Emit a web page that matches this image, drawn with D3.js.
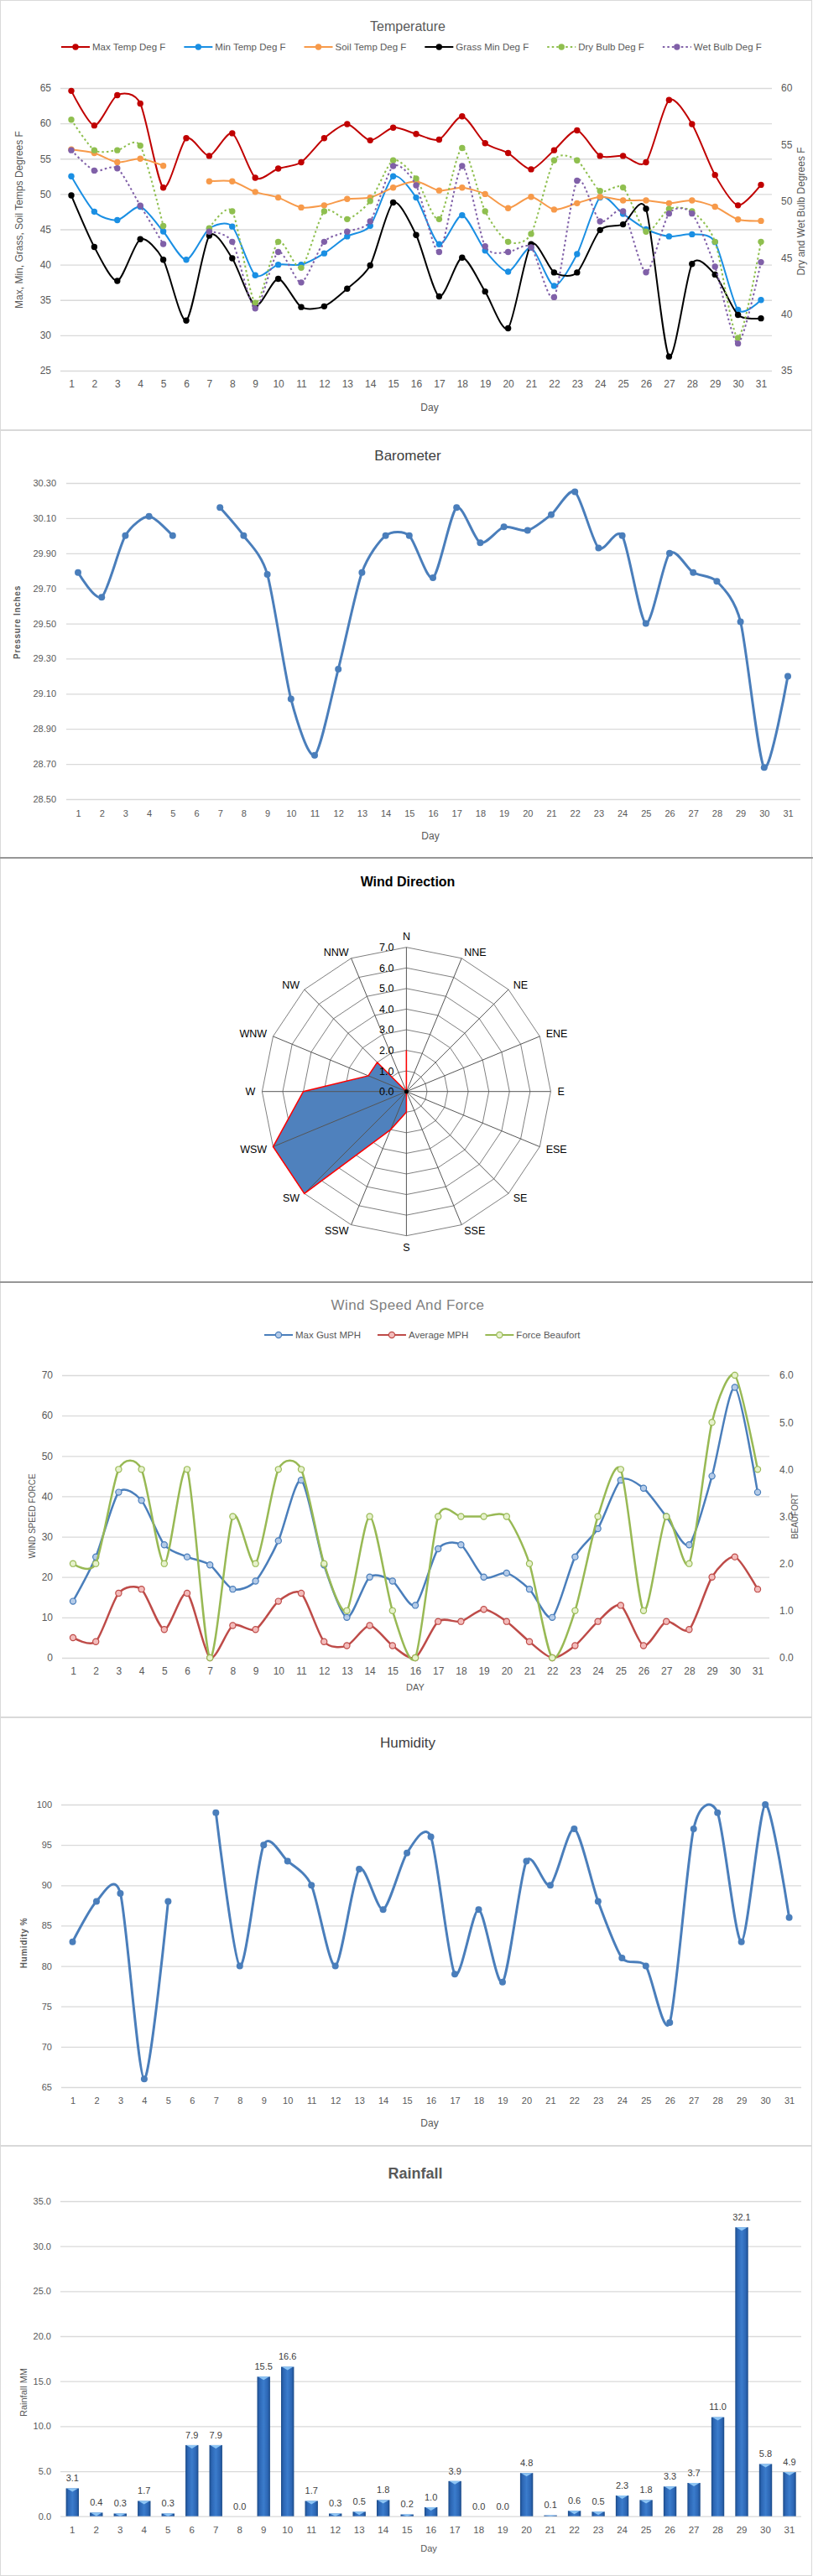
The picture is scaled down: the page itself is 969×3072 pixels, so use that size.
<!DOCTYPE html>
<html><head><meta charset="utf-8">
<script src="https://cdn.jsdelivr.net/npm/d3@7"></script>
<style>body{margin:0;background:#fff} svg{display:block}</style>
</head><body><svg id="c" width="969" height="3072"></svg>
<script>
// ---------- DATA ----------
const days = [1,2,3,4,5,6,7,8,9,10,11,12,13,14,15,16,17,18,19,20,21,22,23,24,25,26,27,28,29,30,31];

const maxTemp  = [64.6,59.7,64.0,62.8,50.9,57.9,55.4,58.6,52.3,53.6,54.5,57.9,59.9,57.6,59.4,58.5,57.7,61.0,57.2,55.8,53.5,56.2,59.0,55.4,55.4,54.5,63.3,59.9,52.7,48.4,51.3];
const minTemp  = [52.5,47.5,46.3,48.2,44.7,40.7,45.1,45.4,38.5,40.0,40.0,41.6,44.0,45.5,52.5,49.5,42.9,47.0,42.0,39.0,42.4,37.0,41.5,49.5,47.2,45.0,44.0,44.3,43.2,33.6,35.0];
const soilTemp = [56.3,55.8,54.5,55.0,54.0,null,51.8,51.8,50.3,49.5,48.1,48.4,49.3,49.5,50.9,51.8,50.5,50.9,50.0,48.0,49.6,47.8,48.7,49.6,49.1,49.1,48.7,49.1,48.2,46.4,46.2];
const grassMin = [49.8,42.5,37.7,43.6,40.7,32.1,44.1,40.9,34.2,38.0,34.0,34.1,36.6,39.9,48.8,44.2,35.5,41.0,36.2,31.0,42.9,38.9,38.9,44.9,45.7,47.9,27.0,40.1,38.6,32.9,32.4];
const dryBulb  = [57.2,54.5,54.5,54.9,47.8,null,47.6,49.1,41.0,46.4,44.1,49.1,48.4,50.0,53.6,52.0,48.4,54.7,49.1,46.4,47.1,53.6,53.6,50.9,51.2,47.3,49.3,49.1,46.4,37.9,46.4];
const wetBulb  = [54.5,52.7,52.9,49.6,46.2,null,47.3,46.4,40.5,45.5,42.8,46.4,47.3,48.2,53.1,51.4,45.5,53.1,46.0,45.5,45.9,41.5,51.8,48.2,49.1,43.7,48.9,48.9,44.2,37.4,44.6];
const tempLeftTicks  = [25,30,35,40,45,50,55,60,65];
const tempRightTicks = [35,40,45,50,55,60];

const barometer = [29.79,29.65,30.00,30.11,30.00,null,30.16,30.00,29.78,29.07,28.75,29.24,29.79,30.00,30.00,29.76,30.16,29.96,30.05,30.03,30.12,30.25,29.93,30.00,29.50,29.90,29.79,29.74,29.51,28.68,29.20];
const baroTicks = [28.5,28.7,28.9,29.1,29.3,29.5,29.7,29.9,30.1,30.3];

const windDirs   = ["N","NNE","NE","ENE","E","ESE","SE","SSE","S","SSW","SW","WSW","W","WNW","NW","NNW"];
const windCounts = [2,0,0,0,0,0,0,0,1,2,7,7,5,2,2,0];
const windRingTicks = [0,1,2,3,4,5,6,7];

const maxGust  = [14,25,41,39,28,25,23,17,19,29,44,23,10,20,19,13,27,28,20,21,17,10,25,32,44,42,35,28,45,67,41];
const avgMph   = [5,4,16,17,7,16,0,8,7,14,16,4,3,8,3,0,9,9,12,9,4,0,3,9,13,3,9,7,20,25,17];
const beaufort = [2,2,4,4,2,4,0,3,2,4,4,2,1,3,1,0,3,3,3,3,2,0,1,3,4,1,3,2,5,6,4];
const windLeftTicks  = [0,10,20,30,40,50,60,70];
const windRightTicks = [0,1,2,3,4,5,6];

const humidity = [83,88,89,66,88,null,99,80,95,93,90,80,92,87,94,96,79,87,78,93,90,97,88,81,80,73,97,99,83,100,86];
const humTicks = [65,70,75,80,85,90,95,100];

const rainfall = [3.1,0.4,0.3,1.7,0.3,7.9,7.9,0.0,15.5,16.6,1.7,0.3,0.5,1.8,0.2,1.0,3.9,0.0,0.0,4.8,0.1,0.6,0.5,2.3,1.8,3.3,3.7,11.0,32.1,5.8,4.9];
const rainTicks = [0,5,10,15,20,25,30,35];

// ---------- HELPERS ----------
const svg = d3.select("#c");
const FONT = '"Liberation Sans", Arial, sans-serif';
const GRID = "#d9d9d9", LBL = "#595959";
const SMOOTH = d3.curveCardinal.tension(0.25);

function panel(y0, y1){
  svg.append("rect").attr("x",0.5).attr("y",y0+0.5).attr("width",967).attr("height",y1-y0-1)
    .attr("fill","#fff").attr("stroke","#d9d9d9");
}
function text(t, x, y, o={}){
  const e = svg.append("text").attr("x",x).attr("y",y).text(t)
    .attr("font-family", o.family||FONT).attr("font-size", o.size||12)
    .attr("fill", o.fill||LBL).attr("text-anchor", o.anchor||"middle")
    .attr("dy", o.dy||"0.35em");
  if (o.weight) e.attr("font-weight", o.weight);
  if (o.ls) e.attr("letter-spacing", o.ls);
  if (o.rot){ e.attr("x",0).attr("y",0).attr("transform",`translate(${x},${y}) rotate(${o.rot})`); }
  return e;
}
function gridAxis(scale, ticks, x0, x1, labelRight, fmt, fs){
  const g = svg.append("g").attr("transform",`translate(${x0},0)`)
    .call(d3.axisLeft(scale).tickValues(ticks).tickSizeInner(-(x1-x0)).tickSizeOuter(0)
      .tickPadding(x0-labelRight).tickFormat(fmt));
  g.select(".domain").remove();
  g.selectAll("line").attr("stroke",GRID).attr("stroke-width",1.3);
  g.selectAll("text").attr("font-size",fs).attr("fill",LBL).attr("font-family",FONT);
  return g;
}
function rightAxis(scale, ticks, x0, labelLeft, fs){
  const g = svg.append("g").attr("transform",`translate(${x0},0)`)
    .call(d3.axisRight(scale).tickValues(ticks).tickSize(0).tickPadding(labelLeft-x0));
  g.select(".domain").remove();
  g.selectAll("text").attr("font-size",fs).attr("fill",LBL).attr("font-family",FONT);
}
function bottomAxis(scale, ticks, yBase, yCenter, fs){
  const g = svg.append("g").attr("transform",`translate(0,${yBase})`)
    .call(d3.axisBottom(scale).tickValues(ticks).tickSize(0).tickFormat(d=>d));
  g.select(".domain").remove();
  g.selectAll("text").attr("y", yCenter-yBase).attr("dy","0.35em")
    .attr("font-size",fs).attr("fill",LBL).attr("font-family",FONT);
}
function series(values, x, y, o){
  const line = d3.line().defined(d=>d!=null).x((d,i)=>x(days[i])).y(d=>y(d)).curve(SMOOTH);
  const p = svg.append("path").attr("d", line(values)).attr("fill","none")
    .attr("stroke",o.color).attr("stroke-width",o.width||2);
  if (o.dash) p.attr("stroke-dasharray",o.dash);
  svg.append("g").selectAll("circle").data(values.map((v,i)=>({v,d:days[i]})).filter(d=>d.v!=null))
    .join("circle").attr("cx",d=>x(d.d)).attr("cy",d=>y(d.v)).attr("r",o.r||3.7)
    .attr("fill",o.fill||o.color).attr("stroke",o.stroke||o.color).attr("stroke-width",o.sw||0);
}
function legend(items, x0, y, gap, fs){
  let x = x0;
  items.forEach(it=>{
    const l = svg.append("line").attr("x1",x).attr("x2",x+34).attr("y1",y).attr("y2",y)
      .attr("stroke",it.color).attr("stroke-width",2.2);
    if (it.dash) l.attr("stroke-dasharray",it.dash);
    svg.append("circle").attr("cx",x+17).attr("cy",y).attr("r",it.r||3.7)
      .attr("fill",it.fill||it.color).attr("stroke",it.stroke||it.color).attr("stroke-width",it.sw||0);
    const t = text(it.name, x+37, y, {anchor:"start", size:fs});
    x = x + 37 + t.node().getComputedTextLength() + gap;
  });
}

// ---------- PANELS ----------
panel(0,513); panel(513,1023); panel(1023,1529); panel(1529,2048); panel(2048,2559); panel(2559,3072);

// ===== Temperature =====
{
  const x = d3.scaleLinear().domain([1,31]).range([85,907]);
  const yL = d3.scaleLinear().domain([25,65]).range([442,105]);
  const yR = d3.scaleLinear().domain([35,60]).range([442,105]);
  gridAxis(yL, tempLeftTicks, 72, 920, 61, d=>d, 12);
  rightAxis(yR, tempRightTicks, 920, 931, 12);
  bottomAxis(x, days, 442, 458, 12);
  text("Temperature", 486, 31, {size:16, fill:"#595959"});
  text("Day", 512, 486, {size:12});
  text("Max, Min, Grass, Soil Temps Degrees F", 23, 262, {size:12, rot:-90});
  text("Dry and Wet Bulb Degrees F", 955, 252, {size:12, rot:-90});
  const S = [
    {name:"Max Temp Deg F", v:maxTemp, color:"#c00000", y:yL},
    {name:"Min Temp Deg F", v:minTemp, color:"#1a8fe3", y:yL},
    {name:"Soil Temp Deg F", v:soilTemp, color:"#f79a4a", y:yL},
    {name:"Grass Min Deg F", v:grassMin, color:"#000000", y:yL},
    {name:"Dry Bulb Deg F", v:dryBulb, color:"#8fbf4f", y:yR, dash:"2.5,3"},
    {name:"Wet Bulb Deg F", v:wetBulb, color:"#8060a8", y:yR, dash:"2.5,3"}
  ];
  S.forEach(s=>series(s.v, x, s.y, {color:s.color, width:2, dash:s.dash, r:3.7}));
  legend(S, 73, 56, 22, 11.5);
}

// ===== Barometer =====
{
  const x = d3.scaleLinear().domain([1,31]).range([93,939]);
  const y = d3.scaleLinear().domain([28.5,30.3]).range([953,576]);
  gridAxis(y, baroTicks, 79, 954, 67, d3.format(".2f"), 11);
  bottomAxis(x, days, 953, 970, 11);
  text("Barometer", 486, 543, {size:17, fill:"#404040"});
  text("Day", 513, 997, {size:12});
  text("Pressure Inches", 20, 742, {size:10, weight:"bold", ls:"0.7px", rot:-90});
  series(barometer, x, y, {color:"#4a7ebb", width:3, r:4});
}

// ===== Wind Direction =====
{
  const cx = 484.4, cy = 1301.7;
  const r = d3.scaleLinear().domain([0,7]).range([0,172]);
  const ang = i => i*2*Math.PI/windDirs.length;
  const g = svg.append("g").attr("transform",`translate(${cx},${cy})`);
  text("Wind Direction", 486, 1051, {size:16, weight:"bold", fill:"#000"});
  windRingTicks.filter(v=>v>0).forEach(v=>{
    g.append("path").attr("d", d3.lineRadial().angle((d,i)=>ang(i)).radius(()=>r(v)).curve(d3.curveLinearClosed)(windDirs))
      .attr("fill","none").attr("stroke","#7f7f7f").attr("stroke-width",1);
  });
  const radar = d3.lineRadial().angle((d,i)=>ang(i)).radius(d=>r(d)).curve(d3.curveLinearClosed);
  g.append("path").attr("d", radar(windCounts)).attr("fill","#4f81bd").attr("stroke","none");
  windDirs.forEach((d,i)=>{
    g.append("line").attr("x1",0).attr("y1",0)
      .attr("x2", r(7)*Math.sin(ang(i))).attr("y2", -r(7)*Math.cos(ang(i)))
      .attr("stroke","#555").attr("stroke-width",1);
  });
  g.append("path").attr("d", radar(windCounts)).attr("fill","none").attr("stroke","#ff0000").attr("stroke-width",1.5);
  g.append("circle").attr("r",2.5).attr("fill","#000");
  windDirs.forEach((d,i)=>{
    const a = ang(i), s = Math.sin(a), c = Math.cos(a);
    const px = cx + 180*s, py = cy - 180*c;
    const anchor = s > 0.1 ? "start" : (s < -0.1 ? "end" : "middle");
    const dy = (i===0) ? "-0.05em" : (i===8 ? "0.8em" : "0.35em");
    text(d, px, py, {size:12.5, fill:"#000", anchor, dy});
  });
  windRingTicks.forEach(v=>{
    text(d3.format(".1f")(v), cx-15, cy - r(v), {size:12.5, fill:"#000", anchor:"end"});
  });
}

// ===== Wind Speed and Force =====
{
  const x = d3.scaleLinear().domain([1,31]).range([87,903]);
  const yL = d3.scaleLinear().domain([0,70]).range([1977,1640]);
  const yR = d3.scaleLinear().domain([0,6]).range([1977,1640]);
  gridAxis(yL, windLeftTicks, 74, 917, 63, d=>d, 12);
  rightAxis(yR, windRightTicks, 917, 929, 12);
  bottomAxis(x, days, 1977, 1993, 12);
  text("Wind Speed And Force", 486, 1556, {size:17, fill:"#7f7f7f", ls:"0.4px"});
  text("DAY", 495, 2012, {size:11});
  text("WIND SPEED FORCE", 38, 1808, {size:10, rot:-90});
  text("BEAUFORT", 947, 1808, {size:10, rot:-90});
  const S = [
    {name:"Max Gust MPH", v:maxGust, color:"#4a7ebb", fill:"#b4cbe8", y:yL},
    {name:"Average MPH", v:avgMph, color:"#be4b48", fill:"#f3bcbb", y:yL},
    {name:"Force Beaufort", v:beaufort, color:"#98b954", fill:"#e6f1cc", y:yR}
  ];
  S.forEach(s=>series(s.v, x, s.y, {color:s.color, width:2.5, r:3.6, fill:s.fill, stroke:s.color, sw:1.2}));
  legend(S.map(s=>({name:s.name, color:s.color, fill:s.fill, stroke:s.color, sw:1.2, r:3.6})), 315, 1592, 20, 11.5);
}

// ===== Humidity =====
{
  const x = d3.scaleLinear().domain([1,31]).range([86.5,940.6]);
  const y = d3.scaleLinear().domain([65,100]).range([2489,2152]);
  gridAxis(y, humTicks, 73, 955, 62, d=>d, 11);
  bottomAxis(x, days, 2489, 2505, 11);
  text("Humidity", 486, 2078, {size:17, fill:"#404040"});
  text("Day", 512, 2532, {size:12});
  text("Humidity %", 28, 2317, {size:10, weight:"bold", ls:"0.6px", rot:-90});
  series(humidity, x, y, {color:"#4a7ebb", width:3, r:4});
}

// ===== Rainfall =====
{
  const x = d3.scaleBand().domain(days).range([72.05,955.25]).paddingInner(0.46).paddingOuter(0.23);
  const y = d3.scaleLinear().domain([0,35]).range([3000.7,2625]);
  gridAxis(y, rainTicks, 72, 955, 61, d3.format(".1f"), 11);
  bottomAxis(x, days, 3000.7, 3017, 11.5);
  text("Rainfall", 495, 2592, {size:18, weight:"bold", fill:"#595959"});
  text("Day", 511, 3039, {size:11});
  text("Rainfall MM", 28, 2853, {size:11, rot:-90});
  const defs = svg.append("defs");
  const gr = defs.append("linearGradient").attr("id","barG").attr("x1","0").attr("x2","1").attr("y1","0").attr("y2","0");
  [["0%","#1b4a87"],["18%","#2c66b4"],["50%","#3b7ccc"],["82%","#2c66b4"],["100%","#1b4a87"]]
    .forEach(s=>gr.append("stop").attr("offset",s[0]).attr("stop-color",s[1]));
  const bars = svg.append("g");
  rainfall.forEach((v,i)=>{
    const d = days[i], bx = x(d), bw = x.bandwidth(), top = y(v), h = y(0)-y(v);
    if (h > 0){
      bars.append("rect").attr("x",bx).attr("y",top).attr("width",bw).attr("height",h).attr("fill","url(#barG)");
      const hh = Math.min(4, h);
      bars.append("path").attr("d",`M${bx+1},${top}L${bx+bw-1},${top}L${bx+bw/2},${top+hh}Z`).attr("fill","#8cc4f4");
    }
    text(d3.format(".1f")(v), bx+bw/2, top-12, {size:11, fill:"#404040"});
  });
}
// dark separators around wind direction panel
svg.append("line").attr("x1",0).attr("x2",969).attr("y1",1023).attr("y2",1023).attr("stroke","#7f7f7f").attr("stroke-width",1.5);
svg.append("line").attr("x1",0).attr("x2",969).attr("y1",1529).attr("y2",1529).attr("stroke","#7f7f7f").attr("stroke-width",1.5);
</script>
</body></html>
